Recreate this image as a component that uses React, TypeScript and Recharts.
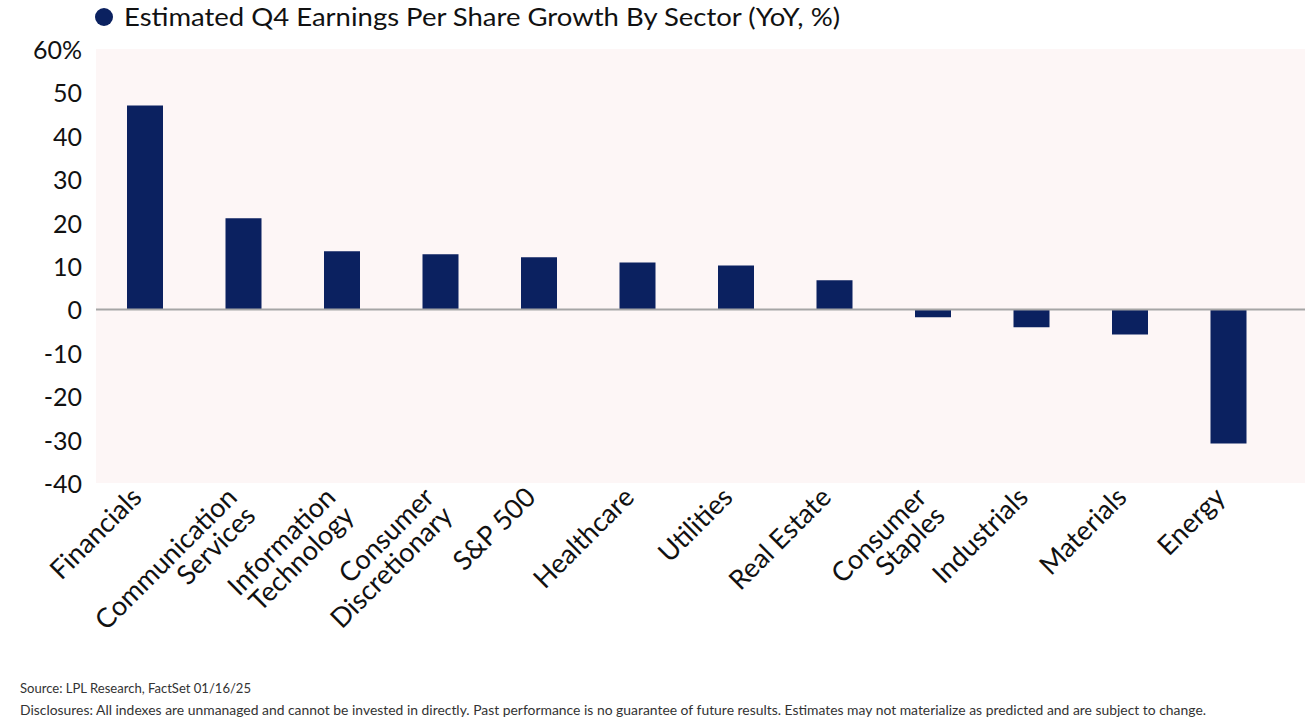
import { BarChart, Bar, XAxis, YAxis, CartesianGrid, ReferenceLine } from 'recharts';

const sectors = [
  'Financials',
  'Communication\nServices',
  'Information\nTechnology',
  'Consumer\nDiscretionary',
  'S&P 500',
  'Healthcare',
  'Utilities',
  'Real Estate',
  'Consumer\nStaples',
  'Industrials',
  'Materials',
  'Energy',
];
const epsGrowth = [47.0, 21.0, 13.4, 12.7, 12.0, 10.8, 10.1, 6.7, -1.8, -4.1, -5.8, -30.9];
const yTicks = [-40, -30, -20, -10, 0, 10, 20, 30, 40, 50, 60];

const data = sectors.map((s, i) => ({ sector: s, value: epsGrowth[i] }));

const NAVY = '#0b2160';
const FONT = 'Lato, "Open Sans", sans-serif';

function SectorTick(props: any) {
  const { x, y, payload } = props;
  const lines: string[] = String(payload.value).split('\n');
  const ax = lines.length > 1 ? x - 5 : x - 2;
  const ay = y + 16;
  return (
    <g transform={`translate(${ax},${ay}) rotate(-45)`}>
      <text textAnchor="end" fontSize={27} fontFamily={FONT} fill="#111">
        {lines.map((l, i) => (
          <tspan key={i} x={0} dy={i === 0 ? 0 : 26}>
            {l}
          </tspan>
        ))}
      </text>
    </g>
  );
}

function ValueTick(props: any) {
  const { x, y, payload } = props;
  const label = payload.value === 60 ? '60%' : String(payload.value);
  return (
    <text x={x - 14} y={y} textAnchor="end" dominantBaseline="central" fontSize={25} fontFamily={FONT} fill="#111">
      {label}
    </text>
  );
}

export default function App() {
  return (
    <div style={{ position: 'absolute', left: 0, top: 0, width: 1310, height: 725, background: '#fff' }}>
      <BarChart
        width={1310}
        height={725}
        data={data}
        margin={{ top: 49, right: 5, left: 0, bottom: 0 }}
      >
        <CartesianGrid fill="#fdf6f6" horizontal={false} vertical={false} />
        <XAxis
          dataKey="sector"
          height={242}
          padding={{ left: 0, right: 27 }}
          tickLine={false}
          axisLine={false}
          tickSize={0}
          tickMargin={0}
          interval={0}
          tick={<SectorTick />}
        />
        <YAxis
          width={96}
          domain={[-40, 60]}
          ticks={yTicks}
          tickLine={false}
          axisLine={false}
          tickSize={0}
          tickMargin={0}
          interval={0}
          tick={<ValueTick />}
        />
        <ReferenceLine y={0} stroke="#a6a6a6" strokeWidth={2} />
        <Bar dataKey="value" fill={NAVY} barSize={36} isAnimationActive={false} />
      </BarChart>
      <svg width={1310} height={725} style={{ position: 'absolute', left: 0, top: 0, pointerEvents: 'none' }}>
        <circle cx={104} cy={17} r={9} fill={NAVY} />
        <text x={124} y={26} fontSize={25} fontFamily={FONT} fill="#111" textLength={716} lengthAdjust="spacingAndGlyphs">
          Estimated Q4 Earnings Per Share Growth By Sector (YoY, %)
        </text>
        <text x={20} y={693} fontSize={13} fontFamily={FONT} fill="#333" textLength={231} lengthAdjust="spacingAndGlyphs">
          Source: LPL Research, FactSet 01/16/25
        </text>
        <text x={20} y={715} fontSize={13} fontFamily={FONT} fill="#333" textLength={1186} lengthAdjust="spacingAndGlyphs">
          Disclosures: All indexes are unmanaged and cannot be invested in directly. Past performance is no guarantee of future results. Estimates may not materialize as predicted and are subject to change.
        </text>
      </svg>
    </div>
  );
}
